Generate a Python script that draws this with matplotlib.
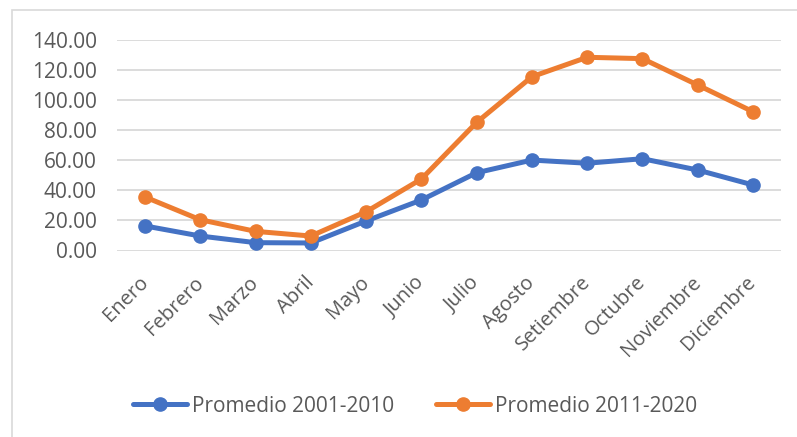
import matplotlib
matplotlib.use("Agg")
import matplotlib.pyplot as plt
import matplotlib.transforms as mtransforms
from matplotlib.patches import Rectangle

months = ["Enero", "Febrero", "Marzo", "Abril", "Mayo", "Junio", "Julio",
          "Agosto", "Setiembre", "Octubre", "Noviembre", "Diciembre"]
prom_2001_2010 = [16.3, 9.6, 5.2, 5.0, 19.6, 33.5, 51.6, 60.0, 57.9, 60.9, 53.4, 43.5]
prom_2011_2020 = [35.5, 20.4, 12.7, 9.6, 25.7, 47.4, 85.0, 115.3, 128.2, 127.3, 109.8, 92.1]
yticks = [0, 20, 40, 60, 80, 100, 120, 140]
labels = ["Promedio 2001-2010", "Promedio 2011-2020"]

plt.rcParams['font.family'] = ['Open Sans', 'DejaVu Sans']
txt = "#595959"
W, H = 797, 437
fig = plt.figure(figsize=(W / 100, H / 100), dpi=100)

# chart border (cropped at right / bottom)
fig.patches.append(Rectangle((12 / W, -0.1), 1.2, 1 - 10 / H + 0.1,
                             transform=fig.transFigure, fill=False,
                             edgecolor="#d9d9d9", linewidth=1.2))

ax = fig.add_axes([117.4 / W, 1 - 250.5 / H, (780.6 - 117.4) / W, (250.5 - 39.5) / H])
x = list(range(len(months)))
l1, = ax.plot(x, prom_2001_2010, color="#4472c4", lw=3.6, marker="o", ms=9.5,
              solid_capstyle="round", label=labels[0], zorder=3)
l2, = ax.plot(x, prom_2011_2020, color="#ed7d31", lw=3.6, marker="o", ms=9.5,
              solid_capstyle="round", label=labels[1], zorder=4)

ax.set_xlim(-0.5, len(months) - 0.5)
ax.set_ylim(0, 140)
ax.set_yticks(yticks)
ax.set_yticklabels([f"{v:.2f}" for v in yticks], fontsize=15, color=txt)
ax.set_xticks(x)
ax.set_xticklabels(months, fontsize=14.5, color=txt, rotation=45, ha="right",
                   va="center", rotation_mode="anchor")
offset = mtransforms.ScaledTranslation(5 / 100, -2 / 100, fig.dpi_scale_trans)
for lab in ax.get_xticklabels():
    lab.set_transform(lab.get_transform() + offset)
ax.tick_params(axis="y", length=0, pad=15)
ax.tick_params(axis="x", length=0, pad=21)
ax.grid(axis="y", color="#d9d9d9", linewidth=1.3)
ax.set_axisbelow(True)
for s in ax.spines.values():
    s.set_visible(False)

fig.legend(handles=[l1, l2], labels=labels, loc="center",
           bbox_to_anchor=(415 / W, 1 - 406 / H), ncol=2, frameon=False,
           fontsize=15, labelcolor=txt, handlelength=2.6, handletextpad=0.25,
           columnspacing=2.0, markerscale=1.0)

fig.savefig("out.png", dpi=100)
